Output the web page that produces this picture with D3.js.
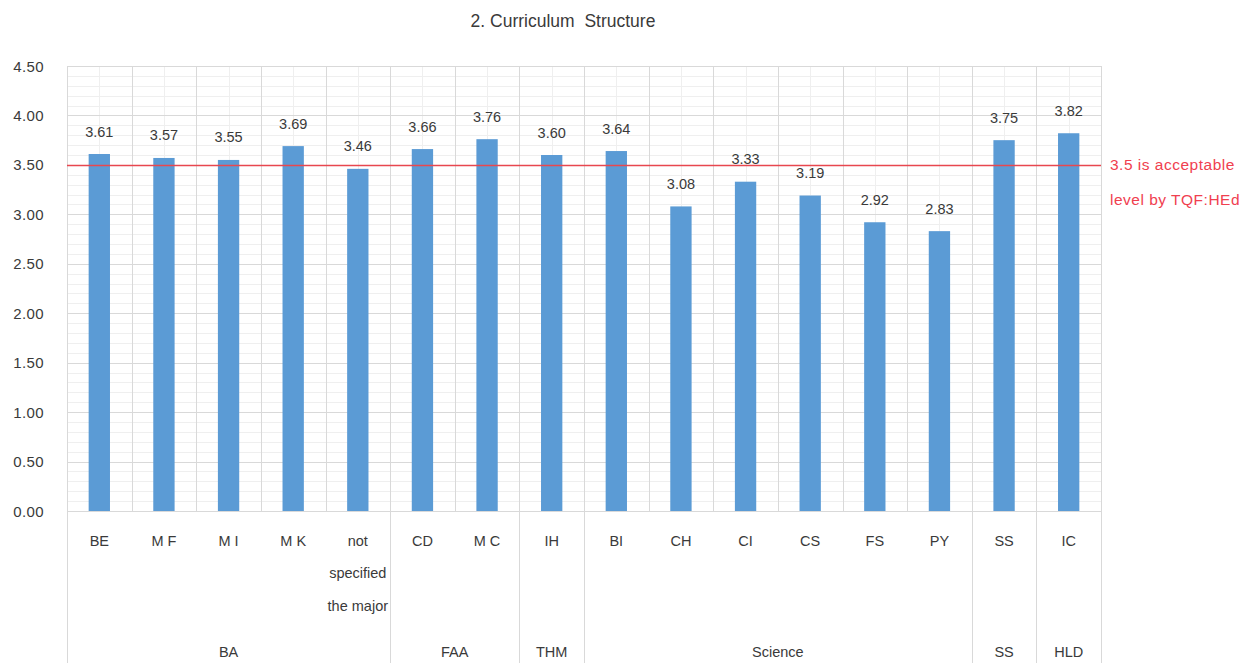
<!DOCTYPE html>
<html><head><meta charset="utf-8">
<script src="https://cdn.jsdelivr.net/npm/d3@7"></script>
<style>body{margin:0;background:#fff;font-family:"Liberation Sans",Arial,sans-serif;}</style>
</head><body><svg id="c" width="1239" height="663"></svg>
<script>
const categories = ["BE","MF","MI","MK","not specified the major","CD","MC","IH","BI","CH","CI","CS","FS","PY","SS","IC"];
const catLines = [["BE"],["M F"],["M I"],["M K"],["not","specified","the major"],["CD"],["M C"],["IH"],["BI"],["CH"],["CI"],["CS"],["FS"],["PY"],["SS"],["IC"]];
const values = [3.61,3.57,3.55,3.69,3.46,3.66,3.76,3.60,3.64,3.08,3.33,3.19,2.92,2.83,3.75,3.82];
const groups = ["BA","FAA","THM","Science","SS","HLD"];
const groupSizes = [5,2,1,6,1,1];
const yTicks = [0,0.5,1,1.5,2,2.5,3,3.5,4,4.5];
const refValue = 3.5;
const refText = ["3.5 is acceptable","level by TQF:HEd"];
const title = "2. Curriculum  Structure";

const svg = d3.select("#c");
const L=67,R=1101,T=66,B=511;
const x = d3.scaleBand().domain(d3.range(categories.length)).range([L,R]).paddingInner(0).paddingOuter(0);
const y = d3.scaleLinear().domain([0,4.5]).range([B,T]);
const bw = x.bandwidth();
const txt = "#3a3a3a";

// minor horizontal grid
const minor = d3.range(0,4.5001,0.1).filter(v=>Math.abs(v*2-Math.round(v*2))>1e-6);
svg.append("g").selectAll("line").data(minor).join("line")
 .attr("x1",L).attr("x2",R).attr("y1",d=>Math.round(y(d))+0.5).attr("y2",d=>Math.round(y(d))+0.5)
 .attr("stroke","#efefef").attr("stroke-width",1);
// minor vertical grid at centers
svg.append("g").selectAll("line").data(d3.range(categories.length)).join("line")
 .attr("x1",d=>Math.round(x(d)+bw/2)+0.5).attr("x2",d=>Math.round(x(d)+bw/2)+0.5).attr("y1",T).attr("y2",B)
 .attr("stroke","#efefef");
// major horizontal
svg.append("g").selectAll("line").data(yTicks).join("line")
 .attr("x1",L).attr("x2",R).attr("y1",d=>Math.round(y(d))+0.5).attr("y2",d=>Math.round(y(d))+0.5)
 .attr("stroke","#d9d9d9");
// major vertical at boundaries
svg.append("g").selectAll("line").data(d3.range(categories.length+1)).join("line")
 .attr("x1",d=>Math.round(L+d*bw)+0.5).attr("x2",d=>Math.round(L+d*bw)+0.5).attr("y1",T).attr("y2",B)
 .attr("stroke","#d9d9d9");
// group separators below
let cum=[0]; groupSizes.forEach(s=>cum.push(cum[cum.length-1]+s));
svg.append("g").selectAll("line").data(cum).join("line")
 .attr("x1",d=>Math.round(L+d*bw)+0.5).attr("x2",d=>Math.round(L+d*bw)+0.5).attr("y1",B).attr("y2",663)
 .attr("stroke","#d9d9d9");

// y axis labels
svg.append("g").selectAll("text").data(yTicks).join("text")
 .attr("x",44).attr("y",d=>y(d)+5.5).attr("text-anchor","end")
 .attr("font-size",15).attr("letter-spacing",0.4).attr("fill",txt).text(d=>d.toFixed(2));

// bars
const barW = bw*0.33;
svg.append("g").selectAll("rect").data(values).join("rect")
 .attr("x",(d,i)=>x(i)+bw/2-barW/2).attr("width",barW)
 .attr("y",d=>y(d)).attr("height",d=>B-y(d)).attr("fill","#5b9bd5");
// data labels
svg.append("g").selectAll("text").data(values).join("text")
 .attr("x",(d,i)=>x(i)+bw/2).attr("y",d=>y(d)-17.5).attr("text-anchor","middle")
 .attr("font-size",14.5).attr("fill",txt).text(d=>d.toFixed(2));

// reference line
svg.append("line").attr("x1",L).attr("x2",R).attr("y1",Math.round(y(refValue))+0.5).attr("y2",Math.round(y(refValue))+0.5)
 .attr("stroke","#e8474f").attr("stroke-width",1.3);
svg.append("g").selectAll("text").data(refText).join("text")
 .attr("x",1110).attr("y",(d,i)=>y(refValue)+5.5+i*35).attr("font-size",15.5).attr("letter-spacing",0.5)
 .attr("fill","#f0404f").text(d=>d);

// category labels
const cg = svg.append("g").selectAll("text").data(catLines).join("text")
 .attr("x",(d,i)=>x(i)+bw/2).attr("y",545.5).attr("text-anchor","middle")
 .attr("font-size",14.5).attr("fill",txt);
cg.selectAll("tspan").data(d=>d).join("tspan")
 .attr("x",function(){return this.parentNode.getAttribute("x");})
 .attr("dy",(d,i)=>i===0?0:32.5).text(d=>d);

// group labels
svg.append("g").selectAll("text").data(groups).join("text")
 .attr("x",(d,i)=>L+(cum[i]+cum[i+1])/2*bw).attr("y",657).attr("text-anchor","middle")
 .attr("font-size",14.5).attr("fill",txt).text(d=>d);

// title
svg.append("text").attr("x",563).attr("y",26.5).attr("text-anchor","middle")
 .attr("font-size",17.5).attr("fill",txt).style("white-space","pre").text(title);
</script></body></html>
